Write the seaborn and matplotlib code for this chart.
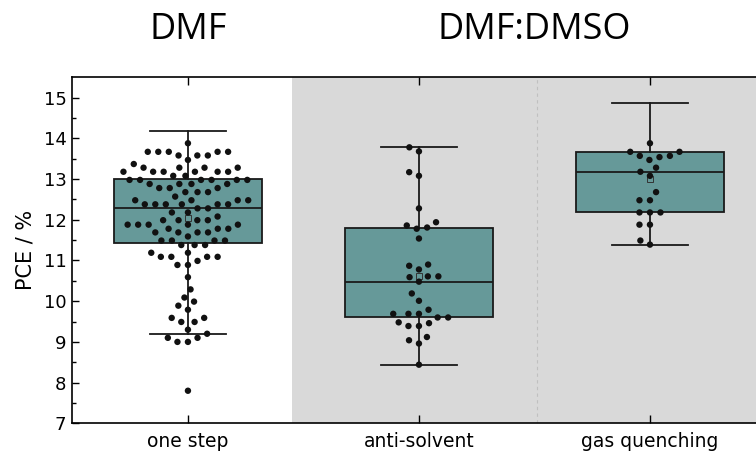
import numpy as np
import pandas as pd
import matplotlib
matplotlib.use("Agg")
import matplotlib.pyplot as plt
import seaborn as sns

# Datos (PCE en %)
one_step = [13.88,
            13.67, 13.67, 13.67, 13.67, 13.67,
            13.58, 13.58, 13.58, 13.47, 13.37,
            13.28, 13.28, 13.28, 13.28,
            13.18, 13.18, 13.18, 13.18, 13.18, 13.18,
            13.08, 13.08,
            12.98, 12.98, 12.98, 12.98, 12.98, 12.98,
            12.88, 12.88, 12.88, 12.88,
            12.78, 12.78, 12.78, 12.68, 12.68, 12.68, 12.57,
            12.48, 12.48, 12.48, 12.48,
            12.38, 12.38, 12.38, 12.38, 12.38, 12.38,
            12.28, 12.28, 12.18, 12.18, 12.08,
            11.99, 11.99, 11.99, 11.99,
            11.88, 11.88, 11.88, 11.88, 11.88,
            11.78, 11.78, 11.78,
            11.69, 11.69, 11.69, 11.69, 11.59,
            11.49, 11.49, 11.49, 11.49,
            11.38, 11.38, 11.38,
            11.19, 11.19, 11.09, 11.09, 11.09, 11.09, 10.99,
            10.89, 10.89, 10.59, 10.29, 10.09, 9.99, 9.89, 9.79,
            9.59, 9.59, 9.49, 9.49, 9.30, 9.20, 9.10, 9.10,
            9.00, 9.00, 7.80]
anti_solvent = [13.78, 13.68, 13.17, 13.08, 12.28, 11.94, 11.86, 11.81, 11.78,
                11.54, 10.90, 10.87, 10.78, 10.61, 10.61, 10.59, 10.48, 10.19,
                10.01, 9.79, 9.69, 9.69, 9.69, 9.60, 9.60, 9.48, 9.46, 9.39,
                9.39, 9.12, 9.04, 8.96, 8.44]
gas_quenching = [13.88, 13.67, 13.67, 13.57, 13.57, 13.54, 13.47, 13.28,
                 13.18, 13.08, 12.68, 12.48, 12.48, 12.18, 12.18, 12.18,
                 11.88, 11.88, 11.49, 11.39]

categorias = ["one step", "anti-solvent", "gas quenching"]

# Estadisticas de las cajas (como en el original)
box_q1 = [11.44, 9.60, 12.18]
box_med = [12.28, 10.48, 13.18]
box_q3 = [12.99, 11.79, 13.67]
whisker_lo = [9.19, 8.44, 11.38]
whisker_hi = [14.19, 13.78, 14.87]
box_mean = [12.05, 10.63, 13.0]

df = pd.DataFrame({
    "metodo": ["one step"] * len(one_step) + ["anti-solvent"] * len(anti_solvent)
              + ["gas quenching"] * len(gas_quenching),
    "pce": one_step + anti_solvent + gas_quenching,
})

fig = plt.figure(figsize=(7.56, 4.54), dpi=100)
ax = fig.add_axes([0.0952, 0.0676, 0.9048, 0.7621])

# fondo gris para DMF:DMSO
ax.axvspan(0.45, 2.6, color="#d9d9d9", zorder=0, lw=0)
ax.axvline(1.51, color="#c0c0c0", ls=(0, (3, 3)), lw=0.8, zorder=0.5)

stats = []
for i, cat in enumerate(categorias):
    stats.append({
        "label": cat,
        "q1": box_q1[i], "med": box_med[i], "q3": box_q3[i],
        "whislo": whisker_lo[i], "whishi": whisker_hi[i],
        "mean": box_mean[i], "fliers": [],
    })

ax.bxp(stats, positions=[0, 1, 2], widths=0.64, capwidths=0.33,
       patch_artist=True, showmeans=True, showfliers=False,
       boxprops=dict(facecolor="#669999", edgecolor="#1a1a1a", linewidth=1.3),
       medianprops=dict(color="#1a1a1a", linewidth=1.3),
       whiskerprops=dict(color="#1a1a1a", linewidth=1.3),
       capprops=dict(color="#1a1a1a", linewidth=1.3),
       meanprops=dict(marker="s", markersize=4, markerfacecolor="none",
                      markeredgecolor="#333333", markeredgewidth=0.7),
       zorder=2)

# borde transparente ancho para separar mas los puntos del enjambre
sns.swarmplot(data=df, x="metodo", y="pce", order=categorias, ax=ax,
              color="#111111", size=4.6, edgecolor="none", linewidth=2.6,
              zorder=3)

ax.set_xlim(-0.502, 2.459)
ax.set_ylim(7, 15.5)
ax.set_yticks(np.arange(7, 16, 1))
ax.set_yticks(np.arange(7.5, 15.5, 1), minor=True)
ax.set_xticks([0, 1, 2])
ax.set_xticklabels(categorias)
ax.tick_params(axis="y", direction="in", length=5, width=1, labelsize=13,
               pad=4, colors="black")
ax.tick_params(axis="y", which="minor", direction="in", length=3, width=1)
ax.tick_params(axis="x", direction="in", length=6, width=1, labelsize=13.5,
               top=True, pad=6)
ax.set_xlabel("")
ax.set_ylabel("PCE / %", fontsize=15, labelpad=6)

for lado in ["left", "top", "bottom"]:
    ax.spines[lado].set_linewidth(1.2)
ax.spines["right"].set_visible(False)

fig.text(0.249, 0.935, "DMF", fontsize=26, family="Open Sans",
         ha="center", va="center")
fig.text(0.707, 0.935, "DMF:DMSO", fontsize=26, family="Open Sans",
         ha="center", va="center")

fig.savefig("out.png", dpi=100)
